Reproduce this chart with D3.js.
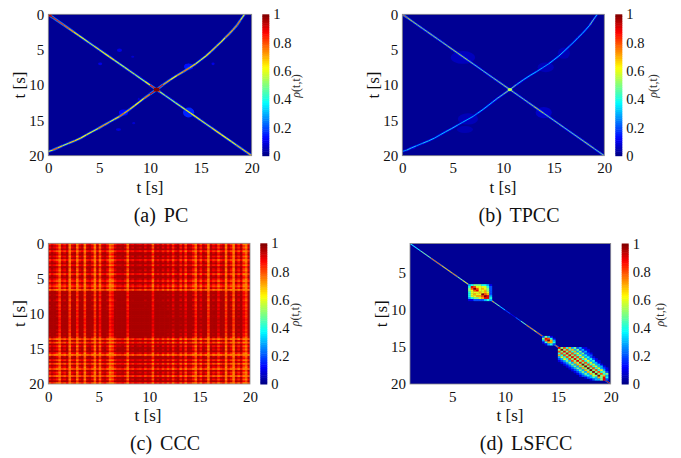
<!DOCTYPE html>
<html>
<head>
<meta charset="utf-8">
<script src="https://cdn.jsdelivr.net/npm/d3@7"></script>
<style>
  html, body { margin: 0; background: #fff; }
  text { font-family: "Liberation Serif", serif; fill: #111; }
</style>
</head>
<body>
<script>
var w = 681,
    h = 458;

// points read along the bent ridge
var curveT = [0, 0.45, 0.9, 1.4, 2, 2.6, 3.2, 3.75, 4.3, 4.9, 5.5, 6, 6.5, 7, 7.45, 8, 8.5, 8.95, 9.4, 10,
              10.65, 11.3, 12, 12.65, 13.3, 13.9, 14.5, 15, 15.5, 16, 16.55, 17, 17.4, 17.8, 18.15, 18.55, 18.9, 19.1, 19.3];
var curveY = [19.4, 19.2, 18.9, 18.6, 18.25, 17.9, 17.5, 17.05, 16.6, 16.15, 15.65, 15.25, 14.85, 14.45, 14, 13.45, 12.9, 12.4, 11.9, 11.3,
              10.65, 9.95, 9.25, 8.65, 8.1, 7.55, 7, 6.45, 5.9, 5.25, 4.5, 3.9, 3.3, 2.75, 2.2, 1.55, 0.8, 0.4, 0];
var pcCurve = [0.5, 0.7, 0.85, 0.5, 0.6, 0.75, 0.55, 0.7, 0.5, 0.65, 0.8, 0.6, 0.55, 0.75, 0.8, 0.6, 0.7, 0.55, 0.7, 0.8,
               1, 0.75, 0.65, 0.6, 0.8, 0.7, 0.65, 0.5, 0.7, 0.6, 0.75, 0.55, 0.7, 0.75, 0.65, 0.8, 0.7, 0.5, 0.7];
var tpccCurve = [0.25, 0.35, 0.5, 0.3, 0.35, 0.45, 0.3, 0.4, 0.35, 0.45, 0.35, 0.3, 0.4, 0.3, 0.35, 0.4, 0.35, 0.4, 0.45, 0.5,
                 0.6, 0.45, 0.4, 0.35, 0.4, 0.3, 0.35, 0.4, 0.35, 0.45, 0.3, 0.4, 0.35, 0.45, 0.3, 0.45, 0.55, 0.35, 0.4];

var diagT = [0, 0.5, 1, 1.5, 2, 2.5, 3, 3.5, 4, 4.5, 5, 5.5, 6, 6.5, 7, 7.5, 8, 8.5, 9, 9.5, 10, 10.65,
             11, 11.5, 12, 12.5, 13, 13.5, 14, 14.5, 15, 15.5, 16, 16.5, 17, 17.5, 18, 18.5, 19, 19.5, 20];
var pcDiag = [0.98, 0.9, 0.8, 0.85, 0.7, 0.75, 0.55, 0.65, 0.5, 0.6, 0.65, 0.55, 0.7, 0.6, 0.5, 0.6, 0.55, 0.6, 0.5, 0.55, 0.7, 1,
              0.6, 0.5, 0.55, 0.5, 0.6, 0.55, 0.65, 0.6, 0.65, 0.55, 0.6, 0.7, 0.6, 0.65, 0.55, 0.65, 0.7, 0.6, 0.8];
var tpccDiag = [0.85, 0.7, 0.55, 0.6, 0.5, 0.55, 0.6, 0.5, 0.5, 0.6, 0.6, 0.55, 0.62, 0.55, 0.5, 0.45, 0.48, 0.5, 0.5, 0.55, 0.55, 0.6,
                0.55, 0.5, 0.5, 0.55, 0.55, 0.7, 0.55, 0.5, 0.5, 0.55, 0.5, 0.45, 0.52, 0.5, 0.55, 0.6, 0.52, 0.45, 0.6];

// faint patches off the ridges: x, y, rx (s), ry (s), rho
var pcPatches = [[13.8, 13.9, 0.55, 0.7, 0.16], [7.4, 13.9, 0.45, 0.45, 0.13], [13.8, 7.4, 0.45, 0.45, 0.14],
                 [7, 5.1, 0.25, 0.25, 0.1], [5.1, 7, 0.2, 0.2, 0.1], [8.3, 6, 0.15, 0.15, 0.08],
                 [16.2, 7, 0.15, 0.2, 0.1], [6.9, 16.3, 0.25, 0.2, 0.09], [8.4, 15.4, 0.15, 0.15, 0.08],
                 [8.9, 12, 0.1, 0.2, 0.08], [12.2, 9, 0.1, 0.2, 0.08]];
var tpccPatches = [[6, 6.1, 1.2, 0.9, 0.06], [14, 13.9, 0.8, 0.8, 0.07], [14.2, 7.5, 0.8, 0.7, 0.055],
                   [6.5, 14.8, 1, 0.8, 0.055], [6.2, 16.3, 0.8, 0.5, 0.05], [16, 5.5, 0.6, 0.8, 0.05],
                   [1, 18.9, 0.3, 0.2, 0.08]];

// hot spots sitting on top of the ridges
var pcHot = [[10.65, 10.65, 0.3, 0.3, 1], [0.1, 0.1, 0.25, 0.25, 0.95]];
var tpccHot = [[10.65, 10.65, 0.22, 0.22, 0.55]];

// CCC stripe levels every 0.25 s, rows then columns
var cccRows = [0.82, 0.9, 0.86, 0.93, 0.8, 0.9, 0.94, 0.85, 0.92, 0.8, 0.88, 0.93, 0.84, 0.95, 0.9, 0.86,
               0.93, 0.8, 0.9, 0.94, 0.86, 0.8, 0.91, 0.84, 0.78, 0.88, 0.74, 0.93, 0.96, 0.92, 0.97, 0.94,
               0.9, 0.97, 0.95, 0.92, 0.97, 0.93, 0.98, 0.95, 0.98, 0.94, 0.97, 0.99, 0.96, 0.99, 0.95, 0.98,
               0.97, 0.94, 0.98, 0.93, 0.96, 0.9, 0.76, 0.92, 0.78, 0.95, 0.85, 0.92, 0.88, 0.96, 0.84, 0.72,
               0.9, 0.95, 0.82, 0.94, 0.78, 0.92, 0.86, 0.76, 0.94, 0.84, 0.9, 0.76, 0.92, 0.85, 0.95, 0.78];
var cccCols = [0.88, 0.94, 0.9, 0.86, 0.76, 0.92, 0.88, 0.95, 0.74, 0.9, 0.93, 0.76, 0.9, 0.94, 0.75, 0.92,
               0.95, 0.88, 0.74, 0.93, 0.78, 0.92, 0.95, 0.88, 0.76, 0.8, 0.9, 0.95, 0.94, 0.97, 0.92, 0.78,
               0.96, 0.92, 0.98, 0.95, 0.93, 0.98, 0.9, 0.96, 0.94, 0.8, 0.97, 0.92, 0.98, 0.9, 0.96, 0.88,
               0.95, 0.84, 0.93, 0.97, 0.86, 0.95, 0.82, 0.94, 0.92, 0.86, 0.76, 0.93, 0.84, 0.95, 0.9, 0.74,
               0.95, 0.88, 0.92, 0.82, 0.9, 0.94, 0.74, 0.92, 0.86, 0.72, 0.92, 0.85, 0.94, 0.8, 0.74, 0.9];

// LSFCC diagonal
var lsT = [1, 2, 3, 4, 4.5, 5, 5.5, 6, 6.5, 8.75, 9, 9.5, 10, 10.5, 11, 11.5, 12, 12.3, 12.7, 13, 13.5, 14.5, 15, 19.5, 20];
var lsRho = [0.5, 0.3, 0.7, 0.85, 0.5, 0.9, 0.6, 0.45, 0.8, 0.8, 0.6, 0.4, 0.25, 0.12, 0.1, 0.35, 0.6, 0.9, 0.6, 0.7, 0.9, 0.7, 0.85, 0.95, 0.9];

// LSFCC blocks, in tenths of rho, 0.25 s per cell
var blockA = [[3, 4, 5, 5, 5, 4, 4, 3, 1],
              [4, 9, 8, 6, 6, 6, 6, 4, 2],
              [5, 8, 10, 8, 6, 7, 6, 5, 2],
              [5, 6, 8, 9, 6, 6, 7, 5, 2],
              [4, 6, 6, 6, 7, 6, 7, 6, 2],
              [4, 6, 7, 6, 6, 10, 8, 7, 2],
              [4, 6, 6, 7, 7, 8, 10, 9, 3],
              [3, 4, 5, 5, 6, 7, 9, 9, 4],
              [1, 1, 2, 2, 2, 2, 3, 4, 3]];
var blockB = [[2, 5, 3, 1, 0],
              [5, 9, 8, 4, 1],
              [3, 8, 10, 7, 3],
              [1, 4, 7, 7, 4],
              [0, 1, 3, 4, 2]];
var blockC = [[9, 5, 8, 4, 7, 3, 5, 2, 3, 1, 1, 0, 0, 0, 0, 0, 0, 0, 0],
              [5, 10, 5, 8, 4, 7, 3, 5, 2, 3, 1, 1, 0, 0, 0, 0, 0, 0, 0],
              [8, 5, 9, 5, 8, 4, 7, 3, 5, 2, 3, 1, 0, 0, 0, 0, 0, 0, 0],
              [4, 8, 5, 9, 5, 8, 4, 6, 3, 5, 2, 2, 1, 0, 0, 0, 0, 0, 0],
              [7, 4, 8, 5, 9, 5, 8, 4, 6, 3, 4, 2, 2, 0, 0, 0, 0, 0, 0],
              [3, 6, 4, 8, 5, 9, 5, 8, 4, 6, 3, 4, 2, 1, 0, 0, 0, 0, 0],
              [2, 3, 6, 4, 8, 5, 9, 5, 8, 4, 6, 3, 4, 2, 1, 0, 0, 0, 0],
              [1, 2, 3, 5, 3, 8, 5, 9, 5, 8, 4, 6, 3, 4, 1, 1, 0, 0, 0],
              [0, 1, 2, 3, 5, 3, 7, 5, 9, 5, 8, 4, 6, 3, 3, 1, 0, 0, 0],
              [0, 0, 1, 2, 3, 5, 3, 7, 5, 10, 5, 8, 4, 6, 3, 3, 1, 0, 0],
              [0, 0, 0, 1, 2, 3, 5, 3, 7, 5, 10, 5, 8, 4, 6, 3, 3, 1, 0],
              [0, 0, 0, 0, 1, 2, 3, 5, 3, 7, 5, 10, 5, 8, 4, 6, 3, 2, 1],
              [0, 0, 0, 0, 0, 1, 2, 3, 5, 3, 7, 5, 10, 5, 8, 4, 6, 3, 1],
              [0, 0, 0, 0, 0, 0, 1, 2, 3, 5, 3, 7, 5, 10, 5, 8, 4, 5, 2],
              [0, 0, 0, 0, 0, 0, 0, 1, 2, 3, 5, 3, 7, 5, 10, 5, 8, 4, 5],
              [0, 0, 0, 0, 0, 0, 0, 0, 1, 2, 3, 4, 3, 6, 5, 10, 5, 7, 3],
              [0, 0, 0, 0, 0, 0, 0, 0, 0, 0, 1, 2, 3, 4, 3, 7, 5, 9, 4],
              [0, 0, 0, 0, 0, 0, 0, 0, 0, 0, 0, 0, 1, 2, 3, 3, 5, 9, 2]];

var ticks = [0, 5, 10, 15, 20];
var lsTicks = [5, 10, 15, 20];
var barTicks = [0, 0.2, 0.4, 0.6, 0.8, 1];

// MATLAB jet
var jet = d3.scaleLinear()
            .domain([0, 0.125, 0.375, 0.625, 0.875, 1])
            .range(['#000080', '#0000ff', '#00ffff', '#ffff00', '#ff0000', '#800000'])
            .clamp(true);

var svg = d3.select('body')
            .append('svg')
            .attr('width', w)
            .attr('height', h)
            .style('display', 'block');

var defs = svg.append('defs');

function addBlur(id, amount) {
  defs.append('filter')
      .attr('id', id)
      .attr('x', '-5%').attr('y', '-5%').attr('width', '110%').attr('height', '110%')
      .append('feGaussianBlur')
      .attr('stdDeviation', amount);
}
addBlur('soft', 0.45);
addBlur('mid', 0.38);
addBlur('crisp', 0.15);

var clipCount = 0;

function makePanel(o) {
  var x = d3.scaleLinear().domain(o.xDomain).range([o.left, o.right]);
  var y = d3.scaleLinear().domain(o.yDomain).range([o.top, o.bottom]);

  var id = 'clip' + (clipCount++);
  defs.append('clipPath').attr('id', id)
      .append('rect')
      .attr('x', o.left).attr('y', o.top)
      .attr('width', o.right - o.left).attr('height', o.bottom - o.top);

  var clipped = svg.append('g').attr('clip-path', 'url(#' + id + ')');
  var plot = clipped.append('g').attr('filter', 'url(#' + o.blur + ')');

  plot.append('rect')
      .attr('x', o.left - 4).attr('y', o.top - 4)
      .attr('width', o.right - o.left + 8).attr('height', o.bottom - o.top + 8)
      .attr('fill', o.ground);

  o.draw(plot, x, y);

  svg.append('rect')
     .attr('x', o.left).attr('y', o.top)
     .attr('width', o.right - o.left).attr('height', o.bottom - o.top)
     .attr('fill', 'none')
     .attr('stroke', '#8a8a8a')
     .attr('stroke-width', 0.8);

  svg.append('g')
     .attr('transform', 'translate(0,' + o.bottom + ')')
     .call(d3.axisBottom(x).tickValues(o.xTicks).tickSize(0).tickPadding(7).tickFormat(d3.format('d')))
     .call(cleanAxis);

  svg.append('g')
     .attr('transform', 'translate(' + o.left + ',0)')
     .call(d3.axisLeft(y).tickValues(o.yTicks).tickSize(0).tickPadding(4).tickFormat(d3.format('d')))
     .call(cleanAxis);

  svg.append('text')
     .attr('x', o.xLabelX).attr('y', o.bottom + 37)
     .attr('text-anchor', 'middle')
     .style('font-size', '17px')
     .text('t [s]');

  svg.append('text')
     .attr('transform', 'translate(' + o.yLabelX + ',' + (o.top + o.bottom) / 2 + ') rotate(-90)')
     .attr('text-anchor', 'middle')
     .style('font-size', '17px')
     .text('t [s]');

  svg.append('text')
     .attr('x', o.captionX).attr('y', o.bottom + 66)
     .attr('text-anchor', 'middle')
     .style('font-size', '20px')
     .style('word-spacing', '3px')
     .text(o.caption);

  makeBar(o);
}

function cleanAxis(g) {
  g.select('.domain').remove();
  g.selectAll('text').style('font-size', '15px');
}

function makeBar(o) {
  var bar = d3.scaleLinear().domain([0, 1]).range([o.bottom, o.top]);
  var steps = d3.range(0, 1, 1 / 64);

  svg.append('g')
     .selectAll('rect')
     .data(steps)
     .enter()
     .append('rect')
     .attr('x', o.barX)
     .attr('width', 7)
     .attr('y', function(d) { return bar(d + 1 / 64); })
     .attr('height', function(d) { return bar(d) - bar(d + 1 / 64) + 0.5; })
     .attr('fill', function(d) { return jet(d + 1 / 128); });

  var ax = svg.append('g')
     .attr('transform', 'translate(' + (o.barX + 7) + ',0)')
     .call(d3.axisRight(bar).tickValues(barTicks).tickSize(0).tickPadding(4).tickFormat(d3.format('~g')));
  ax.select('.domain').remove();
  ax.selectAll('text').style('font-size', '14.5px');

  var lab = svg.append('text')
     .attr('transform', 'translate(' + o.barLabelX + ',' + ((o.top + o.bottom) / 2 + 1) + ') rotate(-90)')
     .attr('text-anchor', 'middle')
     .style('fill', '#333')
     .style('font-size', '12px');
  lab.append('tspan').style('font-style', 'italic').text('\u03c1');
  lab.append('tspan').text('(t,t)');
}

// one stroke per pair of read points, coloured by their mean rho
function drawRidge(g, x, y, xs, ys, rhos, width, halo) {
  var pairs = d3.pairs(d3.range(xs.length));
  g.append('g').selectAll('line')
   .data(pairs)
   .enter()
   .append('line')
   .attr('x1', function(d) { return x(xs[d[0]]); })
   .attr('y1', function(d) { return y(ys[d[0]]); })
   .attr('x2', function(d) { return x(xs[d[1]]); })
   .attr('y2', function(d) { return y(ys[d[1]]); })
   .attr('stroke-width', width + halo)
   .attr('stroke', function(d) { return jet((rhos[d[0]] + rhos[d[1]]) * 0.14); });
  g.append('g').selectAll('line')
   .data(pairs)
   .enter()
   .append('line')
   .attr('x1', function(d) { return x(xs[d[0]]); })
   .attr('y1', function(d) { return y(ys[d[0]]); })
   .attr('x2', function(d) { return x(xs[d[1]]); })
   .attr('y2', function(d) { return y(ys[d[1]]); })
   .attr('stroke-width', width)
   .attr('stroke', function(d) { return jet((rhos[d[0]] + rhos[d[1]]) / 2); });
}

function drawPatches(g, x, y, patches) {
  g.append('g').selectAll('ellipse')
   .data(patches)
   .enter()
   .append('ellipse')
   .attr('cx', function(d) { return x(d[0]); })
   .attr('cy', function(d) { return y(d[1]); })
   .attr('rx', function(d) { return x(d[2]) - x(0); })
   .attr('ry', function(d) { return y(d[3]) - y(0); })
   .attr('fill', function(d) { return jet(d[4]); });
}

function drawBlock(g, x, y, matrix, t0) {
  var step = 0.25;
  matrix.forEach(function(row, i) {
    g.append('g').selectAll('rect')
     .data(row.map(function(v, j) { return [j, v]; }).filter(function(d) { return d[1] > 0; }))
     .enter()
     .append('rect')
     .attr('x', function(d) { return x(t0 + d[0] * step); })
     .attr('y', y(t0 + i * step))
     .attr('width', x(step) - x(0) + 0.3)
     .attr('height', y(step) - y(0) + 0.3)
     .attr('fill', function(d) { return jet(d[1] / 10); });
  });
}

function crossed(diag, curve, patches, hot, width) {
  return function(g, x, y) {
    drawPatches(g, x, y, patches);
    drawRidge(g, x, y, diagT, diagT, diag, width, 1.6);
    drawRidge(g, x, y, curveT, curveY, curve, width, 1.6);
    drawPatches(g, x, y, hot);
  };
}

makePanel({
  left: 48.3, right: 251.7, top: 14.3, bottom: 155.7,
  xDomain: [0, 20], yDomain: [0, 20], xTicks: ticks, yTicks: ticks,
  ground: jet(0.02), blur: 'soft', caption: '(a) PC', captionX: 161, xLabelX: 150, yLabelX: 25,
  barX: 262.3, barLabelX: 300,
  draw: crossed(pcDiag, pcCurve, pcPatches, pcHot, 1.1)
});

makePanel({
  left: 402.3, right: 604.3, top: 14.3, bottom: 155.7,
  xDomain: [0, 20], yDomain: [0, 20], xTicks: ticks, yTicks: ticks,
  ground: jet(0.02), blur: 'soft', caption: '(b) TPCC', captionX: 519, xLabelX: 503, yLabelX: 379,
  barX: 615.3, barLabelX: 657,
  draw: crossed(tpccDiag, tpccCurve, tpccPatches, tpccHot, 0.8)
});

makePanel({
  left: 48.3, right: 250, top: 243.3, bottom: 384,
  xDomain: [0, 20], yDomain: [0, 20], xTicks: ticks, yTicks: ticks,
  ground: jet(0.88), blur: 'mid', caption: '(c) CCC', captionX: 165, xLabelX: 148, yLabelX: 25,
  barX: 260.3, barLabelX: 299,
  draw: function(g, x, y) {
    var level = d3.scaleLinear().domain([0.74, 0.96]).range([0.74, 0.96]).clamp(true);
    cccRows.forEach(function(r, i) {
      g.append('g').selectAll('rect')
       .data(cccCols)
       .enter()
       .append('rect')
       .attr('x', function(c, j) { return x(j * 0.25); })
       .attr('y', y(i * 0.25))
       .attr('width', x(0.25) - x(0) + 0.4)
       .attr('height', y(0.25) - y(0) + 0.4)
       .attr('fill', function(c) { return jet(level(r + c - 0.87)); });
    });
  }
});

makePanel({
  left: 410, right: 610.7, top: 243.5, bottom: 384,
  xDomain: [1, 20], yDomain: [1, 20], xTicks: lsTicks, yTicks: lsTicks,
  ground: jet(0.02), blur: 'crisp', caption: '(d) LSFCC', captionX: 526, xLabelX: 510, yLabelX: 387,
  barX: 621.7, barLabelX: 664,
  draw: function(g, x, y) {
    drawRidge(g, x, y, lsT, lsT, lsRho, 1, 0.6);
    drawBlock(g, x, y, blockA, 6.5);
    drawBlock(g, x, y, blockB, 13.5);
    drawBlock(g, x, y, blockC, 15);
  }
});
</script>
</body>
</html>
